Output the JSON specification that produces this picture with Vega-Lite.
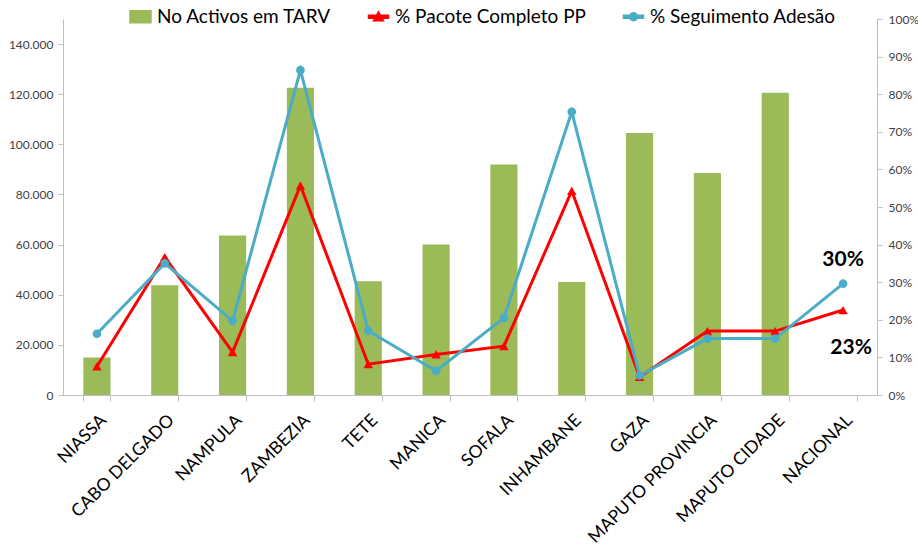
{
  "$schema": "https://vega.github.io/schema/vega-lite/v6.json",
  "width": 814,
  "height": 376,
  "autosize": "none",
  "padding": {"left": 63, "top": 19, "right": 41, "bottom": 154},
  "background": "white",
  "config": {
    "view": {"stroke": null},
    "font": "Lato",
    "axis": {"grid": false, "domainColor": "#BFBFBF", "tickColor": "#BFBFBF", "titleFontSize": 0}
  },
  "data": {
    "values": [
      {"region": "NIASSA", "activos": 15000, "pacote": 0.076, "seguimento": 0.163},
      {"region": "CABO DELGADO", "activos": 43800, "pacote": 0.367, "seguimento": 0.350},
      {"region": "NAMPULA", "activos": 63600, "pacote": 0.114, "seguimento": 0.197},
      {"region": "ZAMBEZIA", "activos": 122600, "pacote": 0.557, "seguimento": 0.864},
      {"region": "TETE", "activos": 45400, "pacote": 0.082, "seguimento": 0.171},
      {"region": "MANICA", "activos": 60000, "pacote": 0.108, "seguimento": 0.064},
      {"region": "SOFALA", "activos": 92000, "pacote": 0.130, "seguimento": 0.205},
      {"region": "INHAMBANE", "activos": 45100, "pacote": 0.543, "seguimento": 0.753},
      {"region": "GAZA", "activos": 104500, "pacote": 0.048, "seguimento": 0.052},
      {"region": "MAPUTO PROVINCIA", "activos": 88600, "pacote": 0.170, "seguimento": 0.150},
      {"region": "MAPUTO CIDADE", "activos": 120600, "pacote": 0.170, "seguimento": 0.150},
      {"region": "NACIONAL", "activos": null, "pacote": 0.226, "seguimento": 0.296}
    ]
  },
  "encoding": {
    "x": {
      "field": "region",
      "type": "nominal",
      "sort": null,
      "scale": {"paddingInner": 0.6, "paddingOuter": 0.3},
      "axis": {
        "title": null,
        "labelAngle": -45,
        "labelFontSize": 17.5,
        "labelColor": "#000000",
        "labelFont": "Lato",
        "tickBand": "extent",
        "tickSize": 6,
        "labelPadding": 10,
        "labelDx": 0,
        "labelOverlap": false,
        "labelLimit": 300
      }
    }
  },
  "layer": [
    {
      "mark": {"type": "bar"},
      "encoding": {
        "y": {
          "field": "activos",
          "type": "quantitative",
          "scale": {"domain": [0, 150000], "nice": false},
          "axis": {
            "title": null,
            "values": [0, 20000, 40000, 60000, 80000, 100000, 120000, 140000],
            "labelExpr": "replace(format(datum.value, ',.0f'), ',', '.')",
            "labelFontSize": 12,
            "labelColor": "#404040",
            "tickSize": 5,
            "labelPadding": 5
          }
        },
        "color": {
          "datum": "No Activos em TARV",
          "scale": {
            "domain": ["No Activos em TARV", "% Pacote Completo PP", "% Seguimento Adesão"],
            "range": ["#9BBB59", "#FF0000", "#4BACC6"]
          },
          "legend": {
            "title": null,
            "orient": "none",
            "direction": "horizontal",
            "legendX": 68,
            "legendY": -12,
            "labelFontSize": 19,
            "labelColor": "#000000",
            "labelFont": "Lato",
            "symbolSize": 100,
            "symbolOpacity": 1,
            "labelOffset": 7,
            "columnPadding": 33,
            "padding": 0,
            "labelLimit": 300
          }
        }
      }
    },
    {
      "layer": [
        {
          "mark": {"type": "line", "strokeWidth": 3},
          "encoding": {
            "y": {"field": "pacote", "type": "quantitative", "scale": {"domain": [0, 1], "nice": false},
              "axis": {"title": null, "orient": "right", "values": [0, 0.1, 0.2, 0.3, 0.4, 0.5, 0.6, 0.7, 0.8, 0.9, 1], "format": ".0%", "labelFontSize": 12, "labelColor": "#404040", "tickSize": 5, "labelPadding": 6}},
            "color": {"datum": "% Pacote Completo PP"}
          }
        },
        {
          "mark": {"type": "point", "shape": "triangle-up", "filled": true, "size": 90, "opacity": 1, "color": "#FF0000"},
          "encoding": {
            "y": {"field": "pacote", "type": "quantitative", "scale": {"domain": [0, 1], "nice": false},
              "axis": {"title": null, "orient": "right", "values": [0, 0.1, 0.2, 0.3, 0.4, 0.5, 0.6, 0.7, 0.8, 0.9, 1], "format": ".0%", "labelFontSize": 12, "labelColor": "#404040", "tickSize": 5, "labelPadding": 6}}
          }
        },
        {
          "mark": {"type": "line", "strokeWidth": 3},
          "encoding": {
            "y": {"field": "seguimento", "type": "quantitative", "scale": {"domain": [0, 1], "nice": false},
              "axis": {"title": null, "orient": "right", "values": [0, 0.1, 0.2, 0.3, 0.4, 0.5, 0.6, 0.7, 0.8, 0.9, 1], "format": ".0%", "labelFontSize": 12, "labelColor": "#404040", "tickSize": 5, "labelPadding": 6}},
            "color": {"datum": "% Seguimento Adesão"}
          }
        },
        {
          "mark": {"type": "point", "shape": "circle", "filled": true, "size": 75, "opacity": 1, "color": "#4BACC6"},
          "encoding": {
            "y": {"field": "seguimento", "type": "quantitative", "scale": {"domain": [0, 1], "nice": false},
              "axis": {"title": null, "orient": "right", "values": [0, 0.1, 0.2, 0.3, 0.4, 0.5, 0.6, 0.7, 0.8, 0.9, 1], "format": ".0%", "labelFontSize": 12, "labelColor": "#404040", "tickSize": 5, "labelPadding": 6}}
          }
        },
        {
          "transform": [{"filter": "datum.region === 'NACIONAL'"}],
          "mark": {"type": "text", "fontWeight": "bold", "fontSize": 21, "dy": -24, "color": "#000000", "font": "Lato"},
          "encoding": {
            "y": {"field": "seguimento", "type": "quantitative", "scale": {"domain": [0, 1], "nice": false},
              "axis": {"title": null, "orient": "right", "values": [0, 0.1, 0.2, 0.3, 0.4, 0.5, 0.6, 0.7, 0.8, 0.9, 1], "format": ".0%", "labelFontSize": 12, "labelColor": "#404040", "tickSize": 5, "labelPadding": 6}},
            "text": {"field": "seguimento", "type": "quantitative", "format": ".0%"}
          }
        },
        {
          "transform": [{"filter": "datum.region === 'NACIONAL'"}],
          "mark": {"type": "text", "fontWeight": "bold", "fontSize": 21, "dy": 38, "dx": 8, "color": "#000000", "font": "Lato"},
          "encoding": {
            "y": {"field": "pacote", "type": "quantitative", "scale": {"domain": [0, 1], "nice": false},
              "axis": {"title": null, "orient": "right", "values": [0, 0.1, 0.2, 0.3, 0.4, 0.5, 0.6, 0.7, 0.8, 0.9, 1], "format": ".0%", "labelFontSize": 12, "labelColor": "#404040", "tickSize": 5, "labelPadding": 6}},
            "text": {"field": "pacote", "type": "quantitative", "format": ".0%"}
          }
        },
        {
          "transform": [{"filter": "false"}],
          "mark": {"type": "point", "filled": true, "opacity": 1},
          "encoding": {
            "color": {"datum": "% Pacote Completo PP"},
            "shape": {
              "datum": "% Pacote Completo PP",
              "scale": {
                "domain": ["No Activos em TARV", "% Pacote Completo PP", "% Seguimento Adesão"],
                "range": [
                  "M-2.1,-1.2H2.1V1.2H-2.1Z",
                  "M-2,-0.3H2V0.3H-2Z M0,-1L1,0.8H-1Z",
                  "M-2,-0.3H2V0.3H-2Z M0.8,0A0.8,0.8,0,1,1,-0.8,0A0.8,0.8,0,1,1,0.8,0Z"
                ]
              },
              "legend": {
                "title": null,
                "orient": "none",
                "direction": "horizontal",
                "legendX": 68,
                "legendY": -12,
                "labelFontSize": 19,
                "labelColor": "#000000",
                "labelFont": "Lato",
                "symbolSize": 100,
                "symbolOpacity": 1,
                "labelOffset": 7,
                "columnPadding": 33,
                "padding": 0,
                "labelLimit": 300
              }
            }
          }
        }
      ]
    }
  ],
  "resolve": {"scale": {"y": "independent"}}
}
